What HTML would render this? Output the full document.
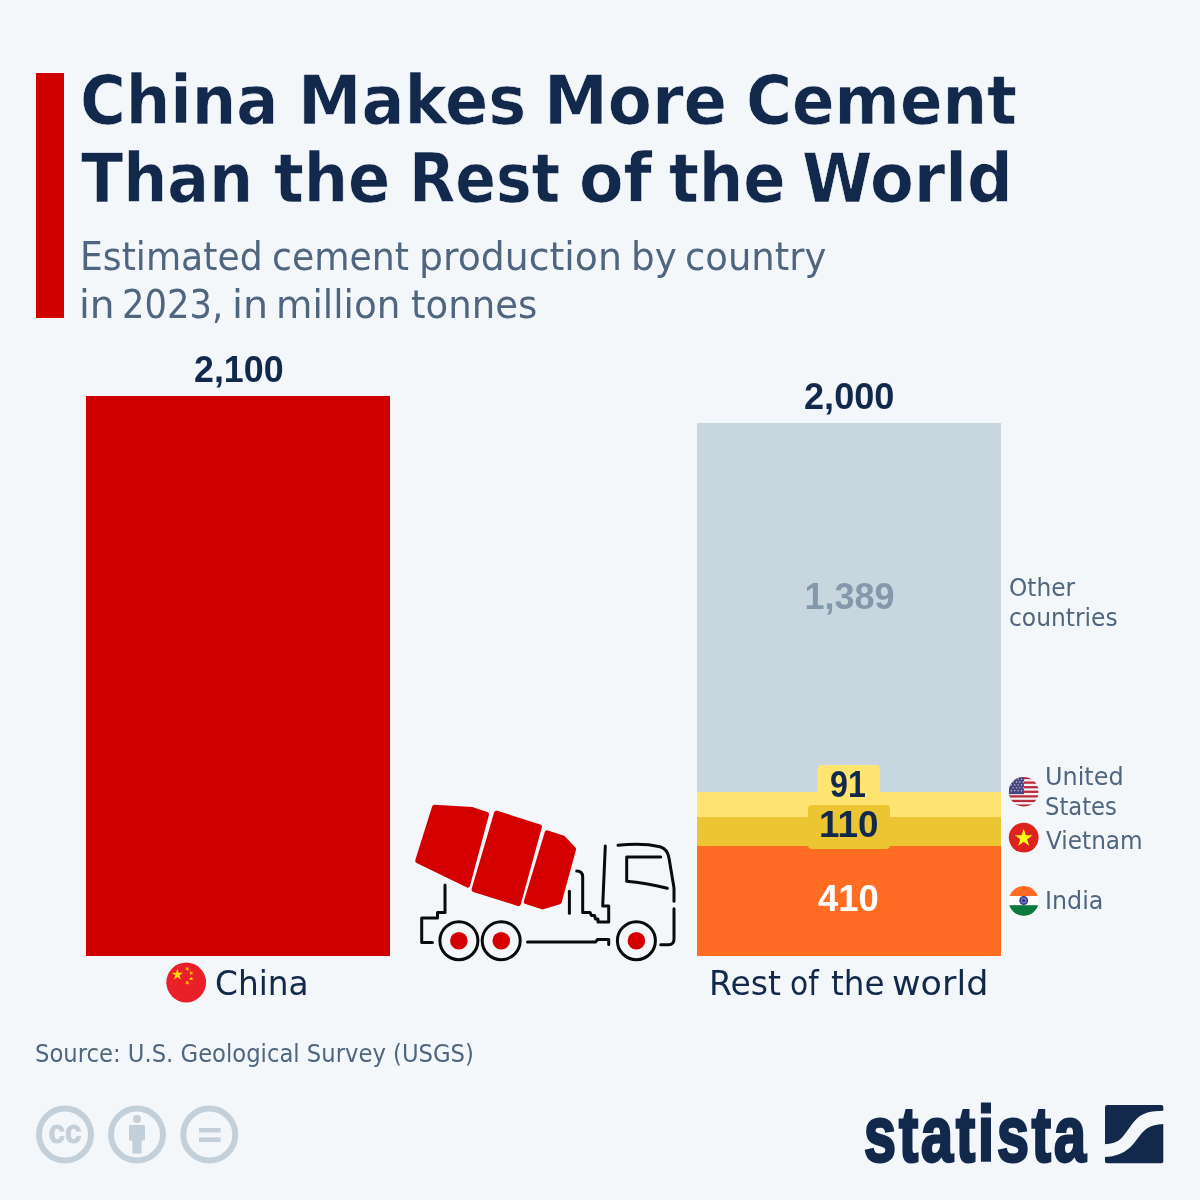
<!DOCTYPE html>
<html lang="en">
<head>
<meta charset="utf-8">
<title>China Makes More Cement Than the Rest of the World</title>
<style>
html,body{margin:0;padding:0}
body{width:1200px;height:1200px;background:#f4f7fa;position:relative;overflow:hidden;font-family:"Liberation Sans",sans-serif}
.abs{position:absolute}
.t{position:absolute;white-space:nowrap;transform-origin:0 0;margin:0;padding:0}
#accent{left:36px;top:73px;width:28px;height:245px;background:#d00000}
#barChina{left:86px;top:396px;width:304px;height:559.6px;background:#d00000}
#segOther{left:696.8px;top:423px;width:304.2px;height:369.5px;background:#c7d6df}
#segUS{left:696.8px;top:792px;width:304.2px;height:25.5px;background:#ffe471}
#segVN{left:696.8px;top:817.2px;width:304.2px;height:29.5px;background:#ecc632}
#segIN{left:696.8px;top:846.3px;width:304.2px;height:109.3px;background:#ff6c22}
#box91{left:818.3px;top:764.6px;width:61.7px;height:32px;border-radius:4px;background:#ffe471}
#box110{left:808.4px;top:805.3px;width:81.5px;height:43.5px;border-radius:4px;background:#ecc632}
#stat{left:864px;top:1084px;font:700 78px/100px 'Liberation Sans',sans-serif;color:#13294b;transform:scaleX(0.737);-webkit-text-stroke:3px #13294b;letter-spacing:4px}
#ta0{left:80.19px;top:67.7px;font:700 condensed 67.0px/67.0px 'DejaVu Sans Condensed','DejaVu Sans','Liberation Sans',sans-serif;color:#13294b;transform:scaleX(1.0364);-webkit-text-stroke:0.6px #f4f7fa}
#ta1{left:297.65px;top:67.7px;font:700 condensed 67.0px/67.0px 'DejaVu Sans Condensed','DejaVu Sans','Liberation Sans',sans-serif;color:#13294b;transform:scaleX(1.058);-webkit-text-stroke:0.6px #f4f7fa}
#ta2{left:543.61px;top:67.7px;font:700 condensed 67.0px/67.0px 'DejaVu Sans Condensed','DejaVu Sans','Liberation Sans',sans-serif;color:#13294b;transform:scaleX(1.0644);-webkit-text-stroke:0.6px #f4f7fa}
#ta3{left:745.88px;top:67.7px;font:700 condensed 67.0px/67.0px 'DejaVu Sans Condensed','DejaVu Sans','Liberation Sans',sans-serif;color:#13294b;transform:scaleX(1.0402);-webkit-text-stroke:0.6px #f4f7fa}
#tb0{left:81.3px;top:145.8px;font:700 condensed 67.0px/67.0px 'DejaVu Sans Condensed','DejaVu Sans','Liberation Sans',sans-serif;color:#13294b;transform:scaleX(1.027);-webkit-text-stroke:0.6px #f4f7fa}
#tb1{left:273.97px;top:145.8px;font:700 condensed 67.0px/67.0px 'DejaVu Sans Condensed','DejaVu Sans','Liberation Sans',sans-serif;color:#13294b;transform:scaleX(1.0321);-webkit-text-stroke:0.6px #f4f7fa}
#tb2{left:408.73px;top:145.8px;font:700 condensed 67.0px/67.0px 'DejaVu Sans Condensed','DejaVu Sans','Liberation Sans',sans-serif;color:#13294b;transform:scaleX(0.9952);-webkit-text-stroke:0.6px #f4f7fa}
#tb3{left:579.27px;top:145.8px;font:700 condensed 67.0px/67.0px 'DejaVu Sans Condensed','DejaVu Sans','Liberation Sans',sans-serif;color:#13294b;transform:scaleX(1.0769);-webkit-text-stroke:0.6px #f4f7fa}
#tb4{left:668.67px;top:145.8px;font:700 condensed 67.0px/67.0px 'DejaVu Sans Condensed','DejaVu Sans','Liberation Sans',sans-serif;color:#13294b;transform:scaleX(1.0349);-webkit-text-stroke:0.6px #f4f7fa}
#tb5{left:801.88px;top:145.8px;font:700 condensed 67.0px/67.0px 'DejaVu Sans Condensed','DejaVu Sans','Liberation Sans',sans-serif;color:#13294b;transform:scaleX(1.0589);-webkit-text-stroke:0.6px #f4f7fa}
#sa0{left:80.29px;top:236.8px;font:400 39.0px/39.0px 'DejaVu Sans','Liberation Sans',sans-serif;color:#50667e;transform:scaleX(0.927)}
#sa1{left:272.34px;top:236.8px;font:400 39.0px/39.0px 'DejaVu Sans','Liberation Sans',sans-serif;color:#50667e;transform:scaleX(0.9297)}
#sa2{left:418.72px;top:236.8px;font:400 39.0px/39.0px 'DejaVu Sans','Liberation Sans',sans-serif;color:#50667e;transform:scaleX(0.9688)}
#sa3{left:630.67px;top:236.8px;font:400 39.0px/39.0px 'DejaVu Sans','Liberation Sans',sans-serif;color:#50667e;transform:scaleX(0.9571)}
#sa4{left:684.7px;top:236.8px;font:400 39.0px/39.0px 'DejaVu Sans','Liberation Sans',sans-serif;color:#50667e;transform:scaleX(0.9479)}
#sb0{left:79.09px;top:284.7px;font:400 39.0px/39.0px 'DejaVu Sans','Liberation Sans',sans-serif;color:#50667e;transform:scaleX(1.0036)}
#sb1{left:121.78px;top:284.7px;font:400 39.0px/39.0px 'DejaVu Sans','Liberation Sans',sans-serif;color:#50667e;transform:scaleX(0.9067)}
#sb2{left:231.74px;top:284.7px;font:400 39.0px/39.0px 'DejaVu Sans','Liberation Sans',sans-serif;color:#50667e;transform:scaleX(1.0143)}
#sb3{left:275.87px;top:284.7px;font:400 39.0px/39.0px 'DejaVu Sans','Liberation Sans',sans-serif;color:#50667e;transform:scaleX(0.9577)}
#sb4{left:410.55px;top:284.7px;font:400 39.0px/39.0px 'DejaVu Sans','Liberation Sans',sans-serif;color:#50667e;transform:scaleX(0.95)}
#n1{left:193.51px;top:351.7px;font:700 36.0px/36.0px 'Liberation Sans',sans-serif;color:#13294b;transform:scaleX(0.9943)}
#n2{left:804.0px;top:378.7px;font:700 36.0px/36.0px 'Liberation Sans',sans-serif;color:#13294b;transform:scaleX(1.0034)}
#n3{left:804.4px;top:579.3px;font:700 36.0px/36.0px 'Liberation Sans',sans-serif;color:#8399ab;transform:scaleX(1.0)}
#n4{left:829.51px;top:766.9px;font:700 36.0px/36.0px 'Liberation Sans',sans-serif;color:#13294b;transform:scaleX(0.8947)}
#n5{left:819.45px;top:806.9px;font:700 36.0px/36.0px 'Liberation Sans',sans-serif;color:#13294b;transform:scaleX(1.0236)}
#n6{left:818.49px;top:881.3px;font:700 36.0px/36.0px 'Liberation Sans',sans-serif;color:#ffffff;transform:scaleX(1.0103)}
#l1{left:214.8px;top:965.6px;font:400 34.5px/34.5px 'DejaVu Sans','Liberation Sans',sans-serif;color:#13294b;transform:scaleX(0.95)}
#o1{left:1009.43px;top:576.0px;font:400 24.0px/24.0px 'DejaVu Sans','Liberation Sans',sans-serif;color:#50667e;transform:scaleX(0.9716)}
#o2{left:1009.43px;top:606.0px;font:400 24.0px/24.0px 'DejaVu Sans','Liberation Sans',sans-serif;color:#50667e;transform:scaleX(0.9743)}
#u1{left:1044.81px;top:764.8px;font:400 24.0px/24.0px 'DejaVu Sans','Liberation Sans',sans-serif;color:#50667e;transform:scaleX(0.9973)}
#u2{left:1044.61px;top:794.5px;font:400 24.0px/24.0px 'DejaVu Sans','Liberation Sans',sans-serif;color:#50667e;transform:scaleX(0.9452)}
#v1{left:1045.6px;top:828.8px;font:400 24.0px/24.0px 'DejaVu Sans','Liberation Sans',sans-serif;color:#50667e;transform:scaleX(0.9663)}
#i1{left:1044.82px;top:888.8px;font:400 24.0px/24.0px 'DejaVu Sans','Liberation Sans',sans-serif;color:#50667e;transform:scaleX(0.9909)}
#src{left:34.91px;top:1041.8px;font:400 24.0px/24.0px 'DejaVu Sans','Liberation Sans',sans-serif;color:#50667e;transform:scaleX(0.9461)}
#lw0{left:709.13px;top:965.5px;font:400 34.5px/34.5px 'DejaVu Sans','Liberation Sans',sans-serif;color:#13294b;transform:scaleX(0.9577)}
#lw1{left:790.28px;top:965.5px;font:400 34.5px/34.5px 'DejaVu Sans','Liberation Sans',sans-serif;color:#13294b;transform:scaleX(0.8594)}
#lw2{left:831.06px;top:965.5px;font:400 34.5px/34.5px 'DejaVu Sans','Liberation Sans',sans-serif;color:#13294b;transform:scaleX(0.9444)}
#lw3{left:892.47px;top:965.5px;font:400 34.5px/34.5px 'DejaVu Sans','Liberation Sans',sans-serif;color:#13294b;transform:scaleX(1.0144)}
</style>
</head>
<body>
<div class="abs" id="accent"></div>
<div class="abs" id="barChina"></div>
<div class="abs" id="segOther"></div>
<div class="abs" id="segUS"></div>
<div class="abs" id="segVN"></div>
<div class="abs" id="segIN"></div>
<div class="abs" id="box91"></div>
<div class="abs" id="box110"></div>
<div class="t" id="stat">statista</div>
<div class="t" id="ta0">China</div>
<div class="t" id="ta1">Makes</div>
<div class="t" id="ta2">More</div>
<div class="t" id="ta3">Cement</div>
<div class="t" id="tb0">Than</div>
<div class="t" id="tb1">the</div>
<div class="t" id="tb2">Rest</div>
<div class="t" id="tb3">of</div>
<div class="t" id="tb4">the</div>
<div class="t" id="tb5">World</div>
<div class="t" id="sa0">Estimated</div>
<div class="t" id="sa1">cement</div>
<div class="t" id="sa2">production</div>
<div class="t" id="sa3">by</div>
<div class="t" id="sa4">country</div>
<div class="t" id="sb0">in</div>
<div class="t" id="sb1">2023,</div>
<div class="t" id="sb2">in</div>
<div class="t" id="sb3">million</div>
<div class="t" id="sb4">tonnes</div>
<div class="t" id="n1">2,100</div>
<div class="t" id="n2">2,000</div>
<div class="t" id="n3">1,389</div>
<div class="t" id="n4">91</div>
<div class="t" id="n5">110</div>
<div class="t" id="n6">410</div>
<div class="t" id="l1">China</div>
<div class="t" id="o1">Other</div>
<div class="t" id="o2">countries</div>
<div class="t" id="u1">United</div>
<div class="t" id="u2">States</div>
<div class="t" id="v1">Vietnam</div>
<div class="t" id="i1">India</div>
<div class="t" id="src">Source: U.S. Geological Survey (USGS)</div>
<div class="t" id="lw0">Rest</div>
<div class="t" id="lw1">of</div>
<div class="t" id="lw2">the</div>
<div class="t" id="lw3">world</div>
<svg class="abs" id="gfx" style="left:0;top:0" width="1200" height="1200" viewBox="0 0 1200 1200">
<g id="truck">
<g fill="#d40000" stroke="#d40000" stroke-width="5" stroke-linejoin="round">
<polygon points="434.5,807.3 471.6,809.5 486.5,814.3 467.6,885.1 417.7,860.7"/>
<polygon points="496.5,813.2 539.4,826.8 518.4,903.5 474.1,889.5"/>
<polygon points="547.1,832.9 563.2,838.1 573.6,849.1 559.2,901.8 542.6,906.9 526.3,901.7"/>
</g>
<g fill="none" stroke="#0a0a0a" stroke-width="3" stroke-linecap="round" stroke-linejoin="round">
<path d="M445,885 V912.5 H437.5 V918 H421.7 V942.5 H432.5"/>
<path d="M527.5,942 H595.5 L597.5,939.5 H608.7 V944.5"/>
<path d="M569.4,891.3 V913.3"/>
<path d="M576.7,871 Q582.7,871 582.7,877 V912.5 H590 L591.5,915.5 H594.5 L595.5,919 H598 V922 H608.7 V906 H602.7 L605.3,846"/>
<path d="M618,845.3 C633,843.7 648,844 660,846.7 C666,848.5 668,852 669,858 L674,888 V901.3"/>
<path d="M674,908.7 V939 Q674,944.7 668.5,944.7 H660.7"/>
<path d="M660.7,857.1 H626.7 V881.3 Q645,883 667.3,888.3"/>
<circle cx="458.9" cy="940.7" r="19"/>
<circle cx="501.2" cy="940.7" r="19"/>
<circle cx="636.4" cy="940.7" r="19"/>
</g>
<circle cx="458.9" cy="940.7" r="8.8" fill="#d40000"/>
<circle cx="501.2" cy="940.7" r="8.8" fill="#d40000"/>
<circle cx="636.4" cy="940.7" r="8.8" fill="#d40000"/>
</g>
<g id="flagCN">
<circle cx="186.2" cy="982.5" r="19.9" fill="#ea2028"/>
<polygon points="177.4,968.7 178.7,972.8 183.0,972.8 179.5,975.3 180.9,979.4 177.4,976.9 173.9,979.4 175.3,975.3 171.8,972.8 176.1,972.8" fill="#ffde00"/>
<polygon points="188.4,966.7 188.0,968.4 189.5,969.3 187.8,969.5 187.5,971.2 186.7,969.6 185.0,969.8 186.3,968.6 185.6,967.0 187.1,967.9" fill="#ffde00"/>
<polygon points="190.8,970.6 191.6,972.2 193.3,971.9 192.1,973.1 192.9,974.7 191.4,973.9 190.1,975.2 190.4,973.4 188.8,972.7 190.5,972.4" fill="#ffde00"/>
<polygon points="191.2,976.3 191.7,978.0 193.5,978.0 192.1,979.0 192.6,980.6 191.2,979.6 189.8,980.6 190.3,979.0 188.9,978.0 190.7,978.0" fill="#ffde00"/>
<polygon points="188.4,980.6 188.0,982.3 189.5,983.2 187.8,983.4 187.5,985.1 186.7,983.5 185.0,983.7 186.3,982.5 185.6,980.9 187.1,981.8" fill="#ffde00"/>
</g>
<defs>
<clipPath id="cUS"><circle cx="1023.7" cy="791.8" r="14.9"/></clipPath>
<clipPath id="cIN"><circle cx="1023.7" cy="901" r="14.9"/></clipPath>
</defs>
<g id="flagUS" clip-path="url(#cUS)">
<rect x="1008.8000000000001" y="776.9" width="29.8" height="29.8" fill="#f2f2f4"/>
<rect x="1008.8000000000001" y="776.90" width="29.8" height="2.29" fill="#b82c40"/>
<rect x="1008.8000000000001" y="781.48" width="29.8" height="2.29" fill="#b82c40"/>
<rect x="1008.8000000000001" y="786.07" width="29.8" height="2.29" fill="#b82c40"/>
<rect x="1008.8000000000001" y="790.65" width="29.8" height="2.29" fill="#b82c40"/>
<rect x="1008.8000000000001" y="795.24" width="29.8" height="2.29" fill="#b82c40"/>
<rect x="1008.8000000000001" y="799.82" width="29.8" height="2.29" fill="#b82c40"/>
<rect x="1008.8000000000001" y="804.41" width="29.8" height="2.29" fill="#b82c40"/>
<rect x="1008.8000000000001" y="776.9" width="15.1" height="17.25" fill="#46467f"/>
<circle cx="1011.3" cy="779.1" r="0.65" fill="#e8e8f0"/>
<circle cx="1014.7" cy="779.1" r="0.65" fill="#e8e8f0"/>
<circle cx="1018.1" cy="779.1" r="0.65" fill="#e8e8f0"/>
<circle cx="1021.5" cy="779.1" r="0.65" fill="#e8e8f0"/>
<circle cx="1013.0" cy="782.0" r="0.65" fill="#e8e8f0"/>
<circle cx="1016.4" cy="782.0" r="0.65" fill="#e8e8f0"/>
<circle cx="1019.8" cy="782.0" r="0.65" fill="#e8e8f0"/>
<circle cx="1023.2" cy="782.0" r="0.65" fill="#e8e8f0"/>
<circle cx="1011.3" cy="784.9" r="0.65" fill="#e8e8f0"/>
<circle cx="1014.7" cy="784.9" r="0.65" fill="#e8e8f0"/>
<circle cx="1018.1" cy="784.9" r="0.65" fill="#e8e8f0"/>
<circle cx="1021.5" cy="784.9" r="0.65" fill="#e8e8f0"/>
<circle cx="1013.0" cy="787.8" r="0.65" fill="#e8e8f0"/>
<circle cx="1016.4" cy="787.8" r="0.65" fill="#e8e8f0"/>
<circle cx="1019.8" cy="787.8" r="0.65" fill="#e8e8f0"/>
<circle cx="1023.2" cy="787.8" r="0.65" fill="#e8e8f0"/>
<circle cx="1011.3" cy="790.7" r="0.65" fill="#e8e8f0"/>
<circle cx="1014.7" cy="790.7" r="0.65" fill="#e8e8f0"/>
<circle cx="1018.1" cy="790.7" r="0.65" fill="#e8e8f0"/>
<circle cx="1021.5" cy="790.7" r="0.65" fill="#e8e8f0"/>
</g>
<g id="flagVN">
<circle cx="1023.7" cy="837.6" r="14.9" fill="#dc241c"/>
<polygon points="1023.7,828.7 1025.8,835.2 1032.6,835.2 1027.1,839.2 1029.2,845.7 1023.7,841.7 1018.2,845.7 1020.3,839.2 1014.8,835.2 1021.6,835.2" fill="#ffff14"/>
</g>
<g id="flagIN" clip-path="url(#cIN)">
<rect x="1008.8000000000001" y="886.1" width="29.8" height="29.8" fill="#fdfdfd"/>
<rect x="1008.8000000000001" y="886.1" width="29.8" height="9.9" fill="#ff6a26"/>
<rect x="1008.8000000000001" y="905.1999999999999" width="29.8" height="10.7" fill="#0b7a3c"/>
<circle cx="1023.7" cy="900.5" r="3.7" fill="#7478bd" stroke="#34398f" stroke-width="1.5"/>
<circle cx="1023.7" cy="900.5" r="1.5" fill="#2a2f86" />
</g>
<g id="cc" fill="none" stroke="#c4d0d9" stroke-width="6">
<circle cx="65" cy="1134.6" r="26"/>
<circle cx="137" cy="1134.6" r="26"/>
<circle cx="209.3" cy="1134.6" r="26"/>
</g>
<g fill="#c4d0d9">
<text id="cctxt" x="65" y="1143.4" text-anchor="middle" font-family="'Liberation Sans',sans-serif" font-weight="700" font-size="33" textLength="33" lengthAdjust="spacingAndGlyphs" stroke="#c4d0d9" stroke-width="1">cc</text>
<circle cx="137" cy="1119" r="4"/>
<rect x="129" y="1125" width="16" height="15.5" rx="1"/>
<rect x="132.4" y="1138" width="9.2" height="15.6"/>
<rect x="199" y="1128" width="21.6" height="4.5"/>
<rect x="199" y="1137.4" width="21.6" height="4.6"/>
</g>
<g id="stIcon">
<rect x="1105" y="1105" width="58.3" height="58.3" rx="2" fill="#13294b"/>
<path fill="#f4f7fa" d="M1104.5,1144.2 C1111,1144 1117.5,1142.5 1122,1137.5 C1128,1131 1131,1124 1137,1118.5 C1143,1113 1150,1111 1164,1110.8 L1164,1124 C1156,1124.3 1150,1126 1145.5,1129.5 C1139,1135 1136,1142 1130,1147.5 C1123,1153.5 1116,1156.5 1104.5,1157 Z"/>
</g>
</svg>
</body>
</html>
